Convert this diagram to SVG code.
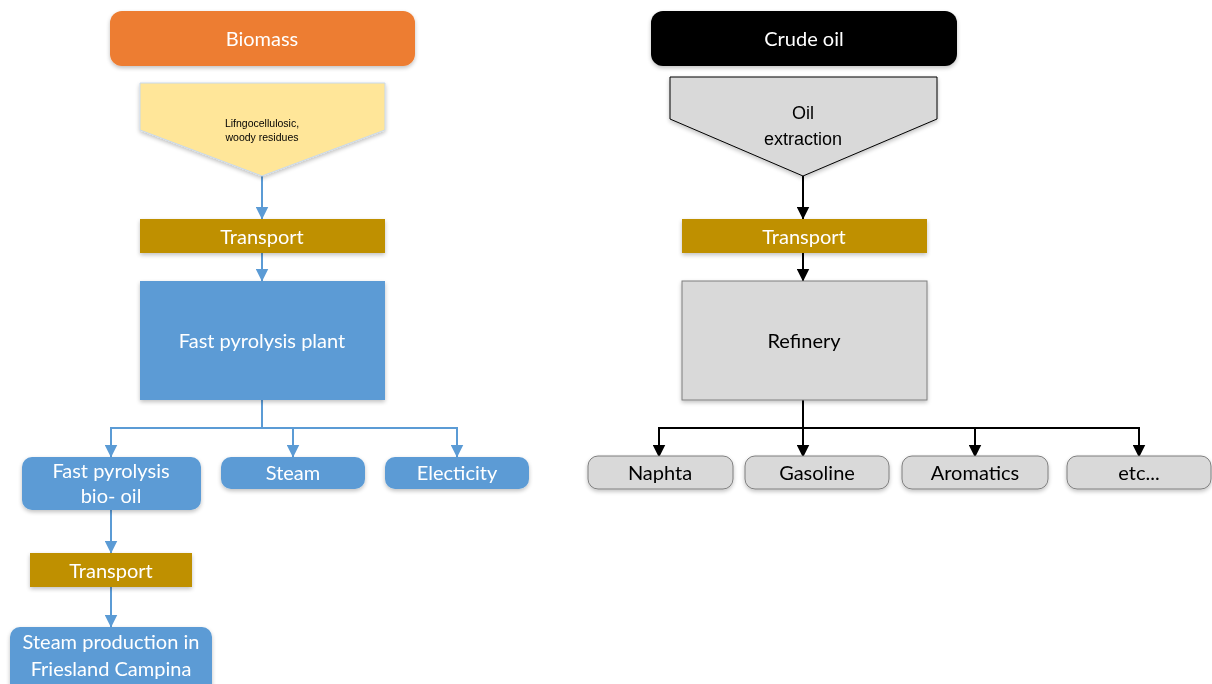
<svg xmlns="http://www.w3.org/2000/svg" width="1212" height="684" viewBox="0 0 1212 684">
<style>
.t{font-family:Lato,"Open Sans","Liberation Sans",sans-serif;font-size:20px;text-anchor:middle;dominant-baseline:central}
.w{fill:#ffffff}
.k{fill:#000000}
.a{font-family:"Liberation Sans",Arial,sans-serif;text-anchor:middle;dominant-baseline:central;fill:#000}
.blue{fill:#5B9BD5}
.gold{fill:#BF9000}
.grey{fill:#D9D9D9;stroke:#7F7F7F;stroke-width:1}
.cb{fill:none;stroke:#5B9BD5;stroke-width:2}
.ck{fill:none;stroke:#000;stroke-width:2}
</style>
<defs>
<filter id="sh" x="-10%" y="-10%" width="120%" height="130%">
<feGaussianBlur in="SourceAlpha" stdDeviation="2"/>
<feOffset dy="2"/>
<feComponentTransfer><feFuncA type="linear" slope="0.25"/></feComponentTransfer>
<feMerge><feMergeNode/><feMergeNode in="SourceGraphic"/></feMerge>
</filter>
<marker id="ab" markerWidth="13" markerHeight="13" refX="6.5" refY="12.5" markerUnits="userSpaceOnUse" viewBox="0 0 13 13">
<path d="M0,0 L13,0 L6.5,13 Z" fill="#5B9BD5"/>
</marker>
<marker id="ak" markerWidth="13" markerHeight="13" refX="6.5" refY="12.5" markerUnits="userSpaceOnUse" viewBox="0 0 13 13">
<path d="M0,0 L13,0 L6.5,13 Z" fill="#000"/>
</marker>
</defs>
<rect width="1212" height="684" fill="#ffffff"/>

<g id="connectors">
<path class="cb" d="M262,176 V219" marker-end="url(#ab)"/>
<path class="cb" d="M262,253 V281" marker-end="url(#ab)"/>
<path class="cb" d="M262,400 V428 H111 V457" marker-end="url(#ab)"/>
<path class="cb" d="M262,428 H293 V457" marker-end="url(#ab)"/>
<path class="cb" d="M293,428 H457 V457" marker-end="url(#ab)"/>
<path class="cb" d="M111,510 V553" marker-end="url(#ab)"/>
<path class="cb" d="M111,587 V627" marker-end="url(#ab)"/>
<path class="ck" d="M803,176 V219" marker-end="url(#ak)"/>
<path class="ck" d="M803,253 V281" marker-end="url(#ak)"/>
<path class="ck" d="M803,400 V457" marker-end="url(#ak)"/>
<path class="ck" d="M803,428 H659 V457" marker-end="url(#ak)"/>
<path class="ck" d="M803,428 H975 V457" marker-end="url(#ak)"/>
<path class="ck" d="M975,428 H1139 V457" marker-end="url(#ak)"/>
</g>

<g id="biomass" filter="url(#sh)">
<rect x="110" y="11" width="305" height="55" rx="12" fill="#ED7D31"/>
<text class="t w" x="262" y="38">Biomass</text>
</g>
<g id="lignocellulosic" filter="url(#sh)">
<path d="M140,83 H385 V130 L262,176 L140,130 Z" fill="#FFE699" stroke="#C9D9EA" stroke-width="1"/>
<text class="a" font-size="10.5" x="262" y="123">Lifngocellulosic,</text>
<text class="a" font-size="10.5" x="262" y="137">woody residues</text>
</g>
<g id="transport1" filter="url(#sh)">
<rect class="gold" x="140" y="219" width="245" height="34"/>
<text class="t w" x="262" y="236">Transport</text>
</g>
<g id="fastpyrolysisplant" filter="url(#sh)">
<rect class="blue" x="140" y="281" width="245" height="119"/>
<text class="t w" x="262" y="340">Fast pyrolysis plant</text>
</g>
<g id="biooil" filter="url(#sh)">
<rect class="blue" x="22" y="457" width="179" height="53" rx="10"/>
<text class="t w" x="111" y="470">Fast pyrolysis</text>
<text class="t w" x="111" y="495">bio- oil</text>
</g>
<g id="steam" filter="url(#sh)">
<rect class="blue" x="221" y="457" width="144" height="32" rx="10"/>
<text class="t w" x="293" y="472">Steam</text>
</g>
<g id="electicity" filter="url(#sh)">
<rect class="blue" x="385" y="457" width="144" height="32" rx="10"/>
<text class="t w" x="457" y="472">Electicity</text>
</g>
<g id="transport2" filter="url(#sh)">
<rect class="gold" x="30" y="553" width="162" height="34"/>
<text class="t w" x="111" y="570">Transport</text>
</g>
<g id="steamproduction" filter="url(#sh)">
<rect class="blue" x="10" y="627" width="202" height="70" rx="10"/>
<text class="t w" x="111" y="641">Steam production in</text>
<text class="t w" x="111" y="668">Friesland Campina</text>
</g>

<g id="crudeoil" filter="url(#sh)">
<rect x="651" y="11" width="306" height="55" rx="12" fill="#000"/>
<text class="t w" x="804" y="38">Crude oil</text>
</g>
<g id="oilextraction" filter="url(#sh)">
<path d="M670,77 H937 V119 L803,176 L670,119 Z" fill="#D9D9D9" stroke="#000" stroke-width="1"/>
<text class="a" font-size="18" x="803" y="113">Oil</text>
<text class="a" font-size="18" x="803" y="139">extraction</text>
</g>
<g id="transport3" filter="url(#sh)">
<rect class="gold" x="682" y="219" width="245" height="34"/>
<text class="t w" x="804" y="236">Transport</text>
</g>
<g id="refinery" filter="url(#sh)">
<rect class="grey" x="682" y="281" width="245" height="119"/>
<text class="t k" x="804" y="340">Refinery</text>
</g>
<g id="naphta" filter="url(#sh)">
<rect class="grey" x="588" y="456" width="145" height="33" rx="10"/>
<text class="t k" x="660" y="472">Naphta</text>
</g>
<g id="gasoline" filter="url(#sh)">
<rect class="grey" x="745" y="456" width="144" height="33" rx="10"/>
<text class="t k" x="817" y="472">Gasoline</text>
</g>
<g id="aromatics" filter="url(#sh)">
<rect class="grey" x="902" y="456" width="146" height="33" rx="10"/>
<text class="t k" x="975" y="472">Aromatics</text>
</g>
<g id="etc" filter="url(#sh)">
<rect class="grey" x="1067" y="456" width="144" height="33" rx="10"/>
<text class="t k" x="1139" y="472">etc...</text>
</g>
</svg>
